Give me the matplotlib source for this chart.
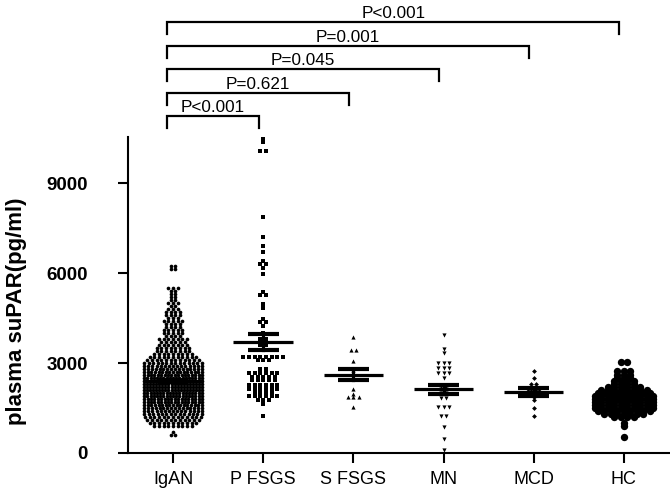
import numpy as np
import matplotlib.pyplot as plt
from matplotlib.transforms import blended_transform_factory

plt.rcParams['font.family'] = ['Liberation Sans', 'DejaVu Sans']

groups = ["IgAN", "P FSGS", "S FSGS", "MN", "MCD", "HC"]

# values: row level (pg/ml) and number of dots in that row
igan_vals = [600, 700, 900, 1000, 1100, 1200, 1300, 1400, 1500, 1600, 1700, 1800,
             1900, 2000, 2100, 2200, 2300, 2400, 2500, 2600, 2700, 2800, 2900,
             3000, 3100, 3200, 3300, 3400, 3500, 3600, 3700, 3800, 3900, 4000,
             4100, 4200, 4300, 4400, 4500, 4600, 4700, 4800, 4900, 5000, 5100,
             5200, 5300, 5400, 5500, 6150, 6250]
igan_counts = [2, 1, 9, 11, 12, 13, 14, 15, 16, 17, 18, 18,
               19, 19, 20, 20, 20, 19, 19, 18, 17, 16, 15,
               14, 12, 11, 9, 8, 8, 7, 6, 7, 4, 5,
               5, 4, 4, 5, 3, 4, 4, 3, 2, 3, 2,
               2, 2, 2, 3, 2, 2]

pf_vals = [1230, 1630, 1770, 1900, 2010, 2120, 2270, 2430, 2550, 2660, 2790,
           3100, 3200, 3450, 3600, 3800, 4000, 4230, 4360, 4470, 4850, 4960,
           5270, 5380, 5990, 6180, 6320, 6410, 6710, 6900, 7210, 7880,
           10080, 10380, 10490]
pf_counts = [1, 1, 3, 6, 4, 6, 6, 5, 5, 6, 2,
             3, 8, 2, 2, 2, 1, 1, 2, 1, 1, 1,
             2, 1, 1, 1, 2, 1, 1, 1, 1, 1,
             2, 1, 1]

sf_vals = [1520, 1870, 1970, 2130, 2500, 2650, 2780, 3080, 3430, 3880]
sf_counts = [1, 3, 1, 1, 1, 1, 1, 1, 2, 1]

mn_vals = [100, 480, 860, 1230, 1540, 1820, 2000, 2120, 2250, 2490, 2660,
           2830, 3000, 3340, 3470, 3930]
mn_counts = [1, 1, 1, 2, 3, 2, 2, 2, 2, 1, 3,
             3, 3, 1, 1, 1]

mcd_vals = [1220, 1490, 1770, 1860, 1930, 2000, 2080, 2150, 2290, 2490, 2740]
mcd_counts = [1, 1, 1, 1, 2, 3, 3, 2, 2, 1, 1]

hc_vals = [550, 900, 1000, 1200, 1300, 1400, 1500, 1600, 1700, 1800, 1900,
           2000, 2100, 2200, 2300, 2400, 2500, 2600, 2750, 3050]
hc_counts = [1, 1, 1, 4, 7, 9, 10, 10, 10, 10, 10,
             9, 8, 6, 4, 4, 3, 3, 3, 2]

means = [2400, 3710, 2620, 2120, 2040, 1800]
sems = [45, 260, 185, 165, 140, 50]

brackets = [(1, "P<0.001"), (2, "P=0.621"), (3, "P=0.045"), (4, "P=0.001"), (5, "P<0.001")]


def swarm(vals, counts, center, step, maxhalf):
    xs = []
    ys = []
    for v, n in zip(vals, counts):
        d = step
        if n > 1 and (n - 1) * d / 2 > maxhalf:
            d = 2 * maxhalf / (n - 1)
        offs = (np.arange(n) - (n - 1) / 2) * d
        xs.extend(center + offs)
        ys.extend([v] * n)
    return xs, ys


fig = plt.figure(figsize=(6.7, 4.99), dpi=100)
ax = fig.add_axes([0.191, 0.0922, 0.8075, 0.6333])

styles = [
    (igan_vals, igan_counts, 'o', 7, 0.052, 0.32),
    (pf_vals, pf_counts, 's', 6, 0.063, 0.32),
    (sf_vals, sf_counts, '^', 9, 0.060, 0.32),
    (mn_vals, mn_counts, 'v', 9, 0.065, 0.32),
    (mcd_vals, mcd_counts, 'D', 6, 0.060, 0.32),
    (hc_vals, hc_counts, 'o', 28, 0.072, 0.34),
]

for i, (v, c, m, s, step, mh) in enumerate(styles):
    xs, ys = swarm(v, c, i, step, mh)
    ax.scatter(xs, ys, marker=m, s=s, color='black', linewidths=0, zorder=3, clip_on=False)

# mean and SEM
for i in range(6):
    ax.plot([i - 0.33, i + 0.33], [means[i], means[i]], color='black', lw=2.3, zorder=4,
            solid_capstyle='butt')
    ax.plot([i, i], [means[i] - sems[i], means[i] + sems[i]], color='black', lw=2.3, zorder=4)
    for yy in [means[i] - sems[i], means[i] + sems[i]]:
        ax.plot([i - 0.17, i + 0.17], [yy, yy], color='black', lw=3, zorder=4,
                solid_capstyle='butt')

ax.set_xlim(-0.5, 5.5)
ax.set_ylim(0, 10550)
ax.set_yticks([0, 3000, 6000, 9000])
ax.set_xticks(range(6))
ax.set_xticklabels(groups, fontsize=13)
for lab in ax.get_yticklabels():
    lab.set_fontweight('bold')
    lab.set_fontsize(13.5)

for sp in ['top', 'right']:
    ax.spines[sp].set_visible(False)
for sp in ['left', 'bottom']:
    ax.spines[sp].set_linewidth(1.5)
ax.tick_params(axis='both', width=1.5, length=7, direction='out')
ax.tick_params(axis='y', pad=22)
ax.tick_params(axis='x', pad=6)

ax.set_ylabel("plasma suPAR(pg/ml)", fontsize=16, fontweight='bold')
ax.yaxis.set_label_coords(-0.187, 0.449)

# significance brackets, y in pixels from top of the figure
trans = blended_transform_factory(ax.transData, fig.transFigure)
H = 499.0
line_y = [116, 93, 69, 45.7, 21.7]
drop = 12
x_left = -0.065
for (k, txt), yp in zip(brackets, line_y):
    xr = k - 0.05
    y0 = 1 - yp / H
    y1 = 1 - (yp + drop) / H
    ax.plot([x_left, x_left, xr, xr], [y1, y0, y0, y1], color='black', lw=1.6,
            transform=trans, clip_on=False, solid_joinstyle='miter')
    ax.text((x_left + xr) / 2, 1 - (yp - 4) / H, txt, transform=trans, ha='center',
            va='baseline', fontsize=12.3)

fig.savefig("out.png", dpi=100)
